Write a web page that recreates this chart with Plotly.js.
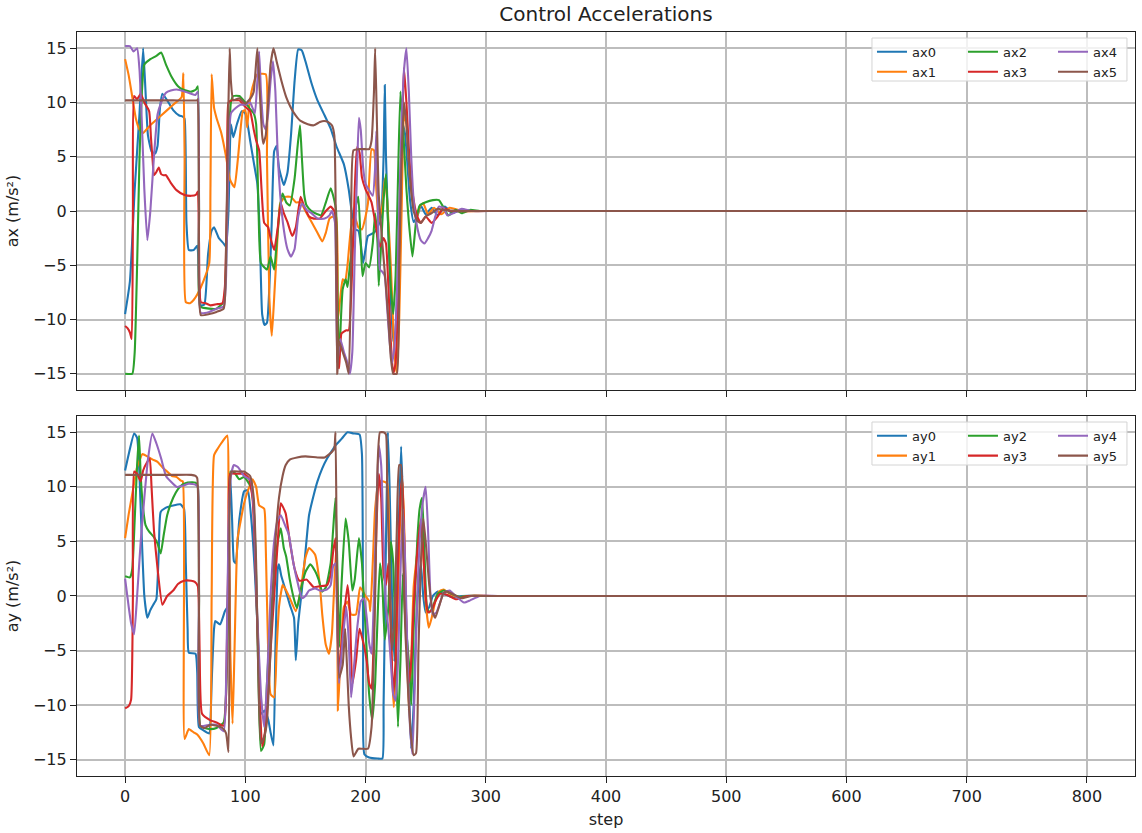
<!DOCTYPE html>
<html>
<head>
<meta charset="utf-8">
<script src="https://cdn.plot.ly/plotly-3.0.1.min.js"></script>
<style>
  html, body { margin: 0; padding: 0; background: #fff; }
  #chart { width: 1142px; height: 833px; }
</style>
</head>
<body>
<div id="chart"></div>
<script>
// Control accelerations per agent as [step, value] breakpoints.
// Everything settles to 0 after ~step 300 and stays there to step 800.

var AX0 = [[0,-9.5],[4,-6.5],[8,2],[12,9],[15,15],[17,11],[19,7],[22,5.5],[25,5.3],[27,6],[29,9.5],[31,10.8],[35,10.2],[40,9.3],[45,8.8],[48,8.7],[49.5,8.5],[51,-1],[53,-3.6],[57,-3.6],[60,-3.2],[61,-4.5],[63,-8.7],[66,-8.6],[69,-4],[72,-1.8],[74,-1.5],[78,-2.5],[82,-3],[84,-3.3],[86,0],[88,8],[90,6.8],[93,8],[97,9.2],[100,9],[104,6.5],[107,4.5],[110,2.5],[112,-2],[114,-9.5],[116,-10.5],[118,-10.3],[120,-7],[122,-1],[124,5.5],[126,6],[128,4],[132,2.4],[135,3.5],[138,7],[141,12],[144,14.9],[147,14.8],[150,13.8],[155,11.8],[160,10.2],[166,8.8],[171,7.6],[176,5.9],[182,4.3],[186,2],[189,-0.5],[191,-1.7],[194,-1.8],[196,-3],[198,-4.8],[200,-3.5],[202,-2.3],[207,-2],[210,-1.5],[213,-0.5],[215,5],[216,11.6],[217,5],[219,-2],[221,-8],[223,-12],[225,-11],[227,-5],[229,3],[231,8],[233,7],[235,4],[237,1],[240,-1],[243,-0.5],[246,0.5],[250,-0.3],[255,0.3],[260,-0.4],[266,0.4],[272,-0.2],[280,0.1],[290,0],[310,0],[800,0]];
var AX1 = [[0,14],[3,12.5],[6,10.5],[9,8.5],[12,7.5],[15,7.2],[20,7.8],[30,8.8],[40,9.8],[47,10.5],[48.5,12.7],[49.5,5],[50.5,-8.4],[54,-8.5],[57,-8.2],[60,-7.7],[65,-6.5],[70,-4.8],[71,2],[72,12.6],[74,9.5],[76,8.6],[80,7.2],[84,5],[87,3],[89,2.5],[91,2.2],[94,5],[98,9.2],[100,9.3],[101.5,7.7],[103,9.5],[106,11.4],[110,12.6],[117,12.6],[118,5],[120,-8],[122,-11.5],[124,-8],[127,-2],[129,0.7],[133,1.3],[138,1.3],[142,0.8],[146,0.8],[150,0],[155,-1],[160,-2],[164,-2.8],[167,-2],[170,-0.7],[173,-0.5],[175.5,-0.5],[177,-10],[179,-8],[181,-6.3],[183,-6.5],[185,-5],[188,-1.5],[191,-0.5],[194,-1.5],[197,-1.7],[200,-0.5],[202,0.7],[205,5.7],[207,5.6],[209,2],[211,-1],[214,0.5],[216,3],[218,1],[221,-5],[224,-13],[226,-15],[228,-10],[230,0],[232,9],[234,8],[237,3],[240,0.5],[243,-0.5],[245,0.4],[248,0.7],[252,-0.3],[257,0.3],[263,-0.3],[270,0.3],[280,0],[300,0],[800,0]];
var AX2 = [[0,-15],[6,-15],[8,-13],[10,-5],[12,5],[14,11],[16,13.5],[21,14],[26,14.3],[30,14.6],[34,13.5],[39,12.3],[44,11.5],[48,11.2],[55,11],[59,11.2],[60.5,11.5],[61.5,0],[62.5,-8.8],[70,-9],[76,-9],[82,-8.4],[84,-5],[86,5],[88,10],[90,10.6],[95,10.6],[100,10],[104,9.4],[107,9],[109,8],[111,0],[113,-4.8],[118,-5.4],[121,-4.2],[124,-5.4],[126,-3],[129,0.5],[131,1.6],[134,0.8],[137,0.5],[141,3],[143.5,6],[145.5,7.9],[147,5],[149,1.5],[151,0.5],[155,0],[160,-0.3],[163,-0.4],[167,0.8],[171,2.1],[174,1],[175.5,0],[177,-10],[178,-14],[179.5,-10],[181,-7.2],[183.5,-6.3],[185,-7],[187,-5],[190,-2.3],[192,0.5],[194,1.3],[196,-3],[197.5,-6],[200,-4.8],[203,-5.2],[206,-3],[208,-0.2],[210,-3],[211,-6.9],[213,-3],[215,1],[217,3.4],[219,-2],[221,-7],[223,-9.5],[225,-6],[227,3],[229,11],[231,8],[234,2],[236,-1],[239,-4.2],[242,-1],[245,0.5],[250,0.8],[256,1],[261,1],[265,0.3],[269,-0.4],[275,0.1],[280,-0.2],[287,0.1],[295,0],[310,0],[800,0]];
var AX3 = [[0,-10.6],[2,-10.8],[4,-11.2],[5.5,-11.8],[6.5,0],[7.5,10.6],[10,10.3],[13,10.8],[16,10],[20,9.2],[21.5,6.8],[23,4.5],[24,3.3],[26,3.6],[28,4],[30,3.4],[32,3.3],[34,3.3],[38,2.6],[43,1.9],[49,1.5],[55,1.4],[59,1.5],[60.5,1.8],[61.5,-3],[63,-8.4],[67,-8.5],[71,-8.7],[76,-8.6],[81,-8.5],[83,-7],[85,2],[86,10],[89,10.2],[95,10.2],[100,9.6],[104,9.2],[107,7.5],[109,6.5],[111.5,5.6],[113.5,2],[115.7,-1.1],[119,-1.5],[121,-2.5],[124,-3.6],[127,-1.5],[129.5,0.7],[132,-0.2],[135,-1],[139,-2.3],[142,-1.5],[146,1.3],[149,0.4],[153,-0.5],[157,-0.7],[162,-0.7],[167,0],[171,0.4],[174,0],[175.5,-1],[177,-14],[178,-14.5],[180,-11.3],[184,-11],[186,-11],[189,-5],[191,2],[193,5.9],[195,5.4],[197,3.1],[200,2],[203,1.3],[205,0.8],[208,-1],[212,-3.3],[215,-2.5],[217,-3],[219,-7],[221,-12],[223,-15],[225,-14],[227,-8],[229,2],[231,10],[232,13.2],[234,10],[237,4],[240,1],[243,-0.5],[246,-1.1],[250,-0.5],[255,-1.1],[260,-0.5],[265,0.3],[270,0],[290,0],[800,0]];
var AX4 = [[0,15.2],[4,15.2],[7,14.7],[10,15],[12,13],[14,8],[16,2],[18.5,-2.7],[21,0],[24,5],[27,8.9],[30,10],[34,10.9],[38,11.1],[43,11.2],[50,11],[55,10.8],[58.5,10.7],[60.5,11],[61.5,1],[63,-9.4],[70,-9.3],[76,-9],[82,-8.8],[84,-6],[86,5],[88,9],[92,9.5],[96,9.8],[100,9.8],[104,10],[106,9.5],[108,9],[110,12],[111.5,14.7],[113,11],[115,8],[117,7.5],[119,9],[121,12],[123,13.8],[125,11],[127,5],[129,1.5],[132,-1.7],[135,-3.5],[138,-4.2],[141,-3.5],[144,-0.5],[147,0.7],[151,0.1],[155,-0.2],[160,-0.7],[166,-0.7],[170,-0.4],[172,0],[174.5,-1],[176.5,-14],[179,-11.8],[182,-13],[185,-14],[187,-15],[189,-13],[191,-4],[193,4],[194.5,8.6],[196,7.5],[198,4],[200,2.5],[203,1.9],[206,1.4],[208,4],[209,7.4],[210,2],[212,-5.4],[214,-5.6],[216,-6],[218,-9],[220,-12],[222,-14],[224,-12.5],[226,-8],[228,0],[230,8],[232,13],[234,15],[236,11],[238,5],[240,1],[243,-1.5],[246,-2.7],[249,-3],[252,-2.5],[255,-1.8],[258,-0.5],[261,0.4],[265,0.3],[268,-0.4],[273,-0.2],[280,0.2],[288,0],[310,0],[800,0]];
var AX5 = [[0,10.2],[20,10.2],[40,10.2],[60,10.2],[60.5,10.3],[61.5,0],[63,-9.6],[70,-9.5],[76,-9.3],[82,-9],[84,-3],[86,10],[87,15],[88,12],[90,10.2],[95,10.4],[100,9.9],[105,10.5],[107,11],[110,15],[112,11],[114,7],[115,6.2],[117,7],[119,10],[121,13.5],[123.5,15],[126,13.8],[130,12],[134,10.5],[138,9.5],[142,8.8],[146,8.3],[152,8],[157,7.9],[162,8.2],[165.5,8.3],[169,8.2],[172,7.9],[174,7],[175,2],[176.5,-15],[178,-12],[181,-13],[184,-14],[186,-15],[188,-5],[190,5.6],[195,5.7],[200,5.7],[203,5.7],[205,6.5],[207,11],[208,15],[209.5,8],[211,1.5],[214,-3],[217,-7],[219,-10],[221,-13.5],[223,-15],[226,-15],[228,-5],[230,5],[232,10],[234,8],[237,3],[240,0],[243,-0.9],[246,-1.1],[250,-0.5],[255,-0.2],[260,0.2],[265,0.1],[280,0],[300,0],[800,0]];

var AY0 = [[0,11.5],[3,13],[7.5,14.9],[10,14.5],[12,11],[14,5],[16,0],[18.5,-2],[21,-1.3],[24,-0.7],[26,-0.3],[28,4],[29.6,7.7],[34,8.1],[40,8.3],[46,8.4],[49,8],[50.5,3],[52,-3],[53,-5.2],[58.6,-5.3],[60,-7],[61.4,-12],[65,-12.3],[70,-12.6],[71,-11.5],[72,-8],[74,-3],[75,-2.3],[79,-2.6],[83,-1.4],[85,-1],[86,5],[87.5,11],[89,7],[90.5,3.2],[92,3],[95,7],[99,9.6],[102,9.7],[105,7],[108,2],[111,-5],[113,-10.8],[116,-10.5],[119,-11.3],[121,-12.5],[123.4,-13.7],[125,-5],[127,2.5],[128,2.9],[130,1.8],[133,0.7],[137,-0.8],[140.5,-2],[142,-5.9],[144,-2.5],[147,0.5],[150,4],[153,7.4],[157,9.3],[160,10.5],[164,11.7],[168,12.6],[172,13.3],[175,13.8],[180,14.4],[185,15],[190,14.9],[195,14.8],[197,13],[198,-5],[199,-14.5],[203,-14.8],[210,-14.9],[214,-14.9],[215,-10],[217,5],[218.6,15],[220,10],[222,0],[224,-6],[226,0],[228,8],[229.6,13.7],[231,9],[233,0],[236,-8],[238,-14],[240,-10],[242,-3],[244,1],[246,3],[248,0],[250,-1.5],[253,-1],[256,0],[260,0.4],[265,0.2],[272,-0.1],[280,0],[300,0],[800,0]];
var AY1 = [[0,5.3],[3,7.5],[7,10],[10,11.8],[14.4,13],[18.5,12.8],[23,12.5],[27,12.3],[31,11.8],[35,11.4],[39,11],[43,10.9],[46,10.6],[48,10.5],[49.5,-13.1],[53,-12.2],[57,-12.5],[60,-12.7],[65,-13.5],[70,-14.6],[72,0],[74,12.9],[77,13.5],[80,14],[85,14.7],[86,10],[87.5,-5],[89.4,-11.7],[91,-5],[93.5,5.2],[96,6.8],[99,8.5],[102,9.6],[106,10.7],[109,10],[111.5,8.3],[115.7,8],[117,4.5],[119,-5],[121,-9],[124,-9.3],[126,-5],[128,-1],[130,0.5],[131,1],[134,0.5],[137,-0.2],[142,-1.4],[146,0.5],[150,3.5],[153,4.4],[158,3.8],[162,1],[164,-1.7],[167,-4.5],[169.6,-5.3],[172,-3.5],[174,1],[176,5],[177,-10.5],[179,-6],[182,-1],[185,-0.5],[188,-1.7],[192,-1.7],[195.5,0.8],[200,0],[203,-0.5],[204,-1.4],[206,3],[208,8],[211,10.5],[215,10.5],[218,10.3],[220,2],[222,-7],[223.5,-10.2],[225,-7],[227,0],[229,8],[230.5,10.8],[232,7],[234,-3],[236,-10.5],[238,-6],[240,0.8],[243,4],[245.7,6.5],[248,4],[250,-0.5],[252.6,-2.9],[255,-2],[258,-0.5],[261,0.4],[265,0.6],[270,0.2],[277,-0.1],[285,0],[305,0],[800,0]];
var AY2 = [[0,1.8],[4,1.7],[6,2.5],[8,7],[10,12],[11.6,14.7],[13,11],[15,8],[17,6.5],[20,5.9],[24,5.4],[27,4.8],[29.6,3.9],[32,5.5],[35,7.4],[40,9],[44,9.8],[47.6,10.2],[52,10.4],[58.6,10.4],[60.5,10],[61.5,0],[62.5,-11.9],[66,-12.1],[71,-12.2],[76,-12.1],[82,-11.6],[85,-5.6],[86.5,5],[87.7,11.4],[91,11.3],[95,10.7],[99,10.9],[104.6,10],[107,8],[109,2],[111,-8],[113,-14.2],[115.7,-13.6],[118,-8],[121,-2],[124,2],[127,5],[129.5,6.2],[132,4.4],[134,3.6],[137,1.5],[141,-0.5],[143,-1.1],[146,0.5],[150,2.2],[154,2.9],[158,2.3],[161,1.5],[164,0.4],[167,0.8],[171,3],[173,6],[175,9],[176.5,3],[178,-4.7],[180,1],[183.4,7.1],[186,5],[189,0.5],[191,1.5],[194.5,5.3],[197,3],[200,-3],[203,-9],[205.6,-11.4],[208,-8],[210,-2],[212,3],[214,1],[216,-4],[219,-1],[221,5],[223,3],[225,-5],[227,-12],[229,-6],[231,2],[233,-2],[236,-6],[238,-10],[240,-3],[243,5],[245,8],[247,9],[249,4],[251,-1],[253,-1.5],[256,-1],[260,0.2],[265,0.5],[270,0.3],[278,-0.1],[285,0],[305,0],[800,0]];
var AY3 = [[0,-10.3],[3,-10.1],[5,-9.5],[6.5,0],[7.5,11.4],[10,11.2],[13,10.5],[15,11.5],[18.5,12.3],[20.5,12.6],[22,10],[24,6],[27,2.5],[31,-0.8],[35,0],[40,0.5],[44,1.1],[49,1.4],[55,1.4],[58,1.3],[60.5,0.9],[62,-5],[64,-10.8],[71,-11.4],[76,-11.6],[82,-11.9],[84,-9],[86,5],[87.5,11.2],[93,11.2],[99,11.2],[103,10.8],[106,9],[108,4],[111,-6],[114,-13.8],[117,-12],[121,-5],[124,0],[127,5],[129.5,8.5],[133.5,7.6],[137,5],[141,2.5],[145,1.4],[151,1.5],[157,0.8],[162,0.9],[168,1],[171,2],[173,4],[175,5.3],[176.5,-2],[178,-7.2],[181,-3],[185,1],[187,-1.5],[189,-8.1],[192,-6],[195,-3],[198.6,-4.5],[201,-6],[203,-8],[205,-8.5],[207,-3],[209,6],[211,11.2],[213,9],[215,2],[217,1],[219,3],[221,-3],[223,-9],[225,-6],[227,3],[229,9],[230.5,11],[232,6],[234,-3],[236,-8],[238,-6],[240,-1],[243,4],[246,7],[248,4],[250,0],[252,-1.5],[255,-1.3],[258,-0.5],[262,0.2],[268,0.1],[275,-0.3],[285,0],[305,0],[800,0]];
var AY4 = [[0,1.6],[3,-1],[5,-2.5],[7.5,-3.5],[10,0],[13,5],[16,9],[19,12.5],[22.7,14.9],[26,14],[30,12.6],[34,11],[38,10.5],[43,10],[48,10.1],[53,10.3],[58.6,10.2],[60.5,10],[61.5,0],[62.5,-11.9],[70,-11.8],[76,-11.8],[82,-12.4],[84,-8],[86,6],[88,11],[90.5,12],[94,11.8],[99,11],[104.6,10.6],[107,8],[110,-2],[113,-9],[115.7,-12],[118,-8],[121,0],[124,5],[127,7],[129.5,7.4],[133,6.5],[136,5.7],[140,3],[144,1],[147,-0.2],[150,0],[153,0.5],[158,0.7],[162,0.5],[165,0.5],[168,0.6],[171,1],[173,2.7],[175,3],[176.5,-3],[178,-8],[181,-4],[184,-1],[186,-4],[188,-9.3],[190,-7],[193,-3],[196,-0.5],[198.6,-0.2],[201,-2],[203,-4.3],[205,-5.3],[207,0],[209,8],[211,13.8],[213,12],[215,5],[217,-1],[219,-3],[221,-6],[223,-9],[225,-9.6],[227,-6],[229,2],[231,8],[233,3],[235,-6],[237,-12],[239,-14.5],[241,-8],[243,0],[245,5],[247.5,8.5],[250,10],[252,6],[254,0],[256,-1.7],[259,-1.5],[262,-0.6],[265,0.3],[270,0.5],[275,0],[282,-0.6],[287,-0.4],[295,0],[310,0],[800,0]];
var AY5 = [[0,11.1],[20,11.1],[40,11.1],[55,11.1],[58.6,11],[60,10.8],[61.5,0],[62.5,-11.9],[66,-12.1],[71,-11.8],[76,-11.9],[81,-12.1],[84,-12.6],[86,-14.3],[87,0],[88.5,11.4],[95,11.4],[99,11.4],[104,11],[107,9],[109,3],[111,-8],[113,-13.5],[116,-12.8],[118,-11.5],[121,-5],[124,3],[128,9],[131,11],[133.6,12],[137,12.5],[143,12.7],[150,12.8],[160,12.7],[166,12.7],[172,13.2],[174,13.5],[175,15],[176,5],[178,-7.5],[181,-6.3],[183,-3],[184,-5],[186,-10],[188,-13],[190,-14.7],[194,-14],[197,-14],[202,-14],[205,-12],[208,0],[210,12],[212,15],[215,15],[217,14.8],[218,10],[220,2],[222,-5],[224,-2],[226,6],[228,12],[229.5,12],[231,5],[233,-3],[236,-10],[238,-13],[240,-14.6],[242,-14.4],[244,-5],[246,3],[248,7.1],[250,5],[253,1],[256,-1.5],[258,-2],[261,-1],[265,0.3],[268,0.4],[272,0.2],[280,-0.2],[288,0],[310,0],[800,0]];

var X_NAMES = ["ax0", "ax1", "ax2", "ax3", "ax4", "ax5"];
var Y_NAMES = ["ay0", "ay1", "ay2", "ay3", "ay4", "ay5"];
var X_SERIES = [AX0, AX1, AX2, AX3, AX4, AX5];
var Y_SERIES = [AY0, AY1, AY2, AY3, AY4, AY5];
var X_TICKS = [0, 100, 200, 300, 400, 500, 600, 700, 800];
var Y_TICKS = [-15, -10, -5, 0, 5, 10, 15];

var COLORS = ["#1f77b4", "#ff7f0e", "#2ca02c", "#d62728", "#9467bd", "#8c564b"];
var FONT = "DejaVu Sans, Liberation Sans, sans-serif";
var INK = "#222";
var GRID = "#bdbdbd";

// three two-row legend columns per panel, like matplotlib's ncol=3
var LEG_X = [0.7514, 0.8374, 0.9225];
var LEG_Y_TOP = 0.9935, LEG_Y_BOT = 0.4775;

function build(series, names, xa, ya, legBase) {
  return series.map(function (pts, i) {
    return {
      type: "scatter", mode: "lines", name: names[i],
      x: pts.map(function (p) { return p[0]; }),
      y: pts.map(function (p) { return p[1]; }),
      xaxis: xa, yaxis: ya,
      line: { color: COLORS[i], width: 2.1, shape: "spline", smoothing: 0.45 },
      legend: legBase + Math.floor(i / 2),
      hoverinfo: "x+y+name"
    };
  });
}

function legId(n) { return n === 0 ? "legend" : "legend" + (n + 1); }

var traces = build(X_SERIES, X_NAMES, "x", "y", 0).concat(build(Y_SERIES, Y_NAMES, "x2", "y2", 3));
traces.forEach(function (t) { t.legend = legId(t.legend); });

function xAxis(extra) {
  var a = {
    range: [-40, 840], tickvals: X_TICKS, ticks: "outside", ticklen: 6, tickwidth: 1.3, tickcolor: INK,
    showline: true, mirror: true, linecolor: INK, linewidth: 1.3,
    showgrid: true, gridcolor: GRID, gridwidth: 1.6, zeroline: false,
    tickfont: { size: 16, color: INK }
  };
  for (var k in extra) { a[k] = extra[k]; }
  return a;
}
function yAxis(title, domain, anchor) {
  return {
    domain: domain, anchor: anchor, range: [-16.5, 16.5], tickvals: Y_TICKS,
    ticks: "outside", ticklen: 6, tickwidth: 1.3, tickcolor: INK,
    showline: true, mirror: true, linecolor: INK, linewidth: 1.3,
    showgrid: true, gridcolor: GRID, gridwidth: 1.6, zeroline: false,
    tickfont: { size: 16, color: INK },
    title: { text: title, font: { size: 16, color: INK }, standoff: 10 }
  };
}

function legend(col, top) {
  return {
    x: LEG_X[col], y: top ? LEG_Y_TOP : LEG_Y_BOT, xanchor: "left", yanchor: "top",
    bgcolor: "rgba(0,0,0,0)", borderwidth: 0, font: { size: 13, color: INK },
    tracegroupgap: 0, itemwidth: 30
  };
}

function legendBox(y0, y1) {
  return {
    type: "rect", xref: "paper", yref: "paper", x0: 0.7514, x1: 0.9924, y0: y0, y1: y1,
    fillcolor: "rgba(255,255,255,0.8)", line: { color: "#d4d4d4", width: 1 }, layer: "above"
  };
}

var layout = {
  width: 1142, height: 833,
  font: { family: FONT, color: INK, size: 16 },
  paper_bgcolor: "#fff", plot_bgcolor: "#fff",
  margin: { l: 77, r: 7, t: 32, b: 57 },
  title: { text: "Control Accelerations", font: { size: 20, color: INK }, x: 0.5, xref: "paper", y: 0.983, yref: "container", yanchor: "middle" },
  xaxis: xAxis({ anchor: "y", showticklabels: false, matches: "x2" }),
  xaxis2: xAxis({ anchor: "y2", title: { text: "step", font: { size: 16, color: INK }, standoff: 8 } }),
  yaxis: yAxis("ax (m/s²)", [0.5188, 1], "x"),
  yaxis2: yAxis("ay (m/s²)", [0, 0.4839], "x2"),
  shapes: [legendBox(0.9341, 0.9919), legendBox(0.418, 0.4758)],
  showlegend: true,
  legend: legend(0, true), legend2: legend(1, true), legend3: legend(2, true),
  legend4: legend(0, false), legend5: legend(1, false), legend6: legend(2, false)
};

Plotly.newPlot("chart", traces, layout, { displayModeBar: false, responsive: false });
</script>
</body>
</html>
